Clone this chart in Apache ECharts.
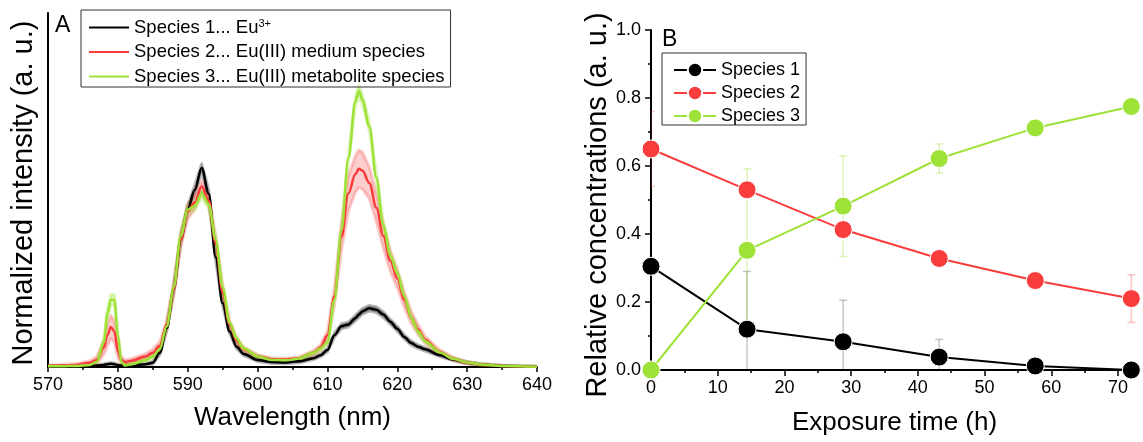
<!DOCTYPE html>
<html>
<head>
<meta charset="utf-8">
<script src="https://cdn.jsdelivr.net/npm/echarts@6/dist/echarts.min.js"></script>
<style>
  html, body { margin: 0; padding: 0; background: #fff; }
  #chart { width: 1143px; height: 442px; }
</style>
</head>
<body>
<div id="chart"></div>
<script>
// ---- Panel A: emission spectra of the three Eu species ----
const wavelength = [
  570, 572, 574, 576, 577, 578, 578.5, 579, 579.5, 580,
  580.5, 581, 582, 584, 585, 586, 587, 588, 589, 590,
  591, 592, 593, 594, 595, 596, 597, 598, 600, 602,
  604, 606, 608, 609, 610, 611, 612, 613, 614, 614.5,
  615, 616, 617, 618, 619, 620, 621, 622, 623, 624,
  626, 628, 630, 632, 635, 640
];
const spectrum1 = [
  0.002, 0.002, 0.002, 0.003, 0.004, 0.006, 0.008, 0.009, 0.008, 0.005,
  0.004, 0.004, 0.005, 0.008, 0.012, 0.04, 0.11, 0.22, 0.36, 0.445,
  0.5, 0.562, 0.49, 0.31, 0.18, 0.1, 0.057, 0.037, 0.02, 0.014,
  0.013, 0.016, 0.025, 0.033, 0.048, 0.09, 0.115, 0.12, 0.138, 0.148,
  0.157, 0.166, 0.162, 0.148, 0.128, 0.108, 0.085, 0.068, 0.057, 0.05,
  0.034, 0.021, 0.012, 0.007, 0.003, 0.001
];
const spectrum1Sd = [
  0.002, 0.002, 0.002, 0.002, 0.002, 0.003, 0.003, 0.003, 0.003, 0.003,
  0.003, 0.003, 0.003, 0.003, 0.004, 0.006, 0.008, 0.01, 0.012, 0.012,
  0.012, 0.012, 0.012, 0.01, 0.008, 0.006, 0.005, 0.004, 0.004, 0.004,
  0.004, 0.004, 0.004, 0.004, 0.005, 0.006, 0.007, 0.007, 0.008, 0.008,
  0.008, 0.008, 0.008, 0.008, 0.007, 0.007, 0.006, 0.006, 0.005, 0.005,
  0.004, 0.003, 0.003, 0.002, 0.002, 0.001
];
const spectrum2 = [
  0.003, 0.004, 0.006, 0.012, 0.02, 0.055, 0.09, 0.113, 0.1, 0.045,
  0.02, 0.014, 0.018, 0.03, 0.04, 0.06, 0.12, 0.22, 0.36, 0.44,
  0.465, 0.51, 0.47, 0.35, 0.21, 0.12, 0.075, 0.05, 0.03, 0.022,
  0.021, 0.025, 0.04, 0.055, 0.09, 0.2, 0.368, 0.49, 0.545, 0.56,
  0.555, 0.52, 0.45, 0.37, 0.3, 0.25, 0.19, 0.14, 0.105, 0.077,
  0.043, 0.023, 0.012, 0.007, 0.003, 0.001
];
const spectrum2Sd = [
  0.003, 0.003, 0.004, 0.006, 0.01, 0.02, 0.03, 0.033, 0.03, 0.02,
  0.01, 0.006, 0.006, 0.008, 0.01, 0.012, 0.015, 0.02, 0.022, 0.022,
  0.02, 0.015, 0.015, 0.02, 0.018, 0.012, 0.008, 0.006, 0.005, 0.004,
  0.004, 0.004, 0.006, 0.008, 0.012, 0.025, 0.04, 0.05, 0.052, 0.053,
  0.052, 0.045, 0.04, 0.035, 0.03, 0.026, 0.022, 0.018, 0.014, 0.01,
  0.007, 0.005, 0.003, 0.002, 0.001, 0.001
];
const spectrum3 = [
  0.002, 0.002, 0.003, 0.006, 0.015, 0.07, 0.15, 0.19, 0.19, 0.09,
  0.015, 0.004, 0.008, 0.02, 0.03, 0.05, 0.115, 0.225, 0.37, 0.445,
  0.455, 0.49, 0.46, 0.36, 0.225, 0.125, 0.08, 0.052, 0.03, 0.02,
  0.019, 0.024, 0.04, 0.052, 0.07, 0.19, 0.386, 0.59, 0.75, 0.78,
  0.755, 0.68, 0.535, 0.4, 0.315, 0.265, 0.2, 0.14, 0.1, 0.073,
  0.042, 0.023, 0.013, 0.007, 0.003, 0.001
];
const spectrum3Sd = [
  0.002, 0.002, 0.002, 0.003, 0.005, 0.012, 0.015, 0.015, 0.015, 0.012,
  0.006, 0.003, 0.003, 0.004, 0.005, 0.006, 0.008, 0.01, 0.012, 0.012,
  0.012, 0.012, 0.012, 0.012, 0.01, 0.007, 0.005, 0.004, 0.004, 0.003,
  0.003, 0.003, 0.004, 0.005, 0.006, 0.01, 0.012, 0.014, 0.015, 0.016,
  0.015, 0.014, 0.013, 0.012, 0.01, 0.01, 0.009, 0.008, 0.006, 0.005,
  0.004, 0.003, 0.002, 0.002, 0.001, 0.001
];
const spectrumNames = [
  'Species 1... Eu3+',
  'Species 2... Eu(III) medium species',
  'Species 3... Eu(III) metabolite species'
];

// ---- Panel B: relative concentrations over exposure time ----
const exposureTime = [0, 14.4, 28.8, 43.2, 57.6, 72];
const conc1 = [0.305, 0.12, 0.083, 0.038, 0.012, 0.0];
const conc1Err = [0, 0.17, 0.122, 0.052, 0.005, 0];
const conc2 = [0.65, 0.53, 0.413, 0.328, 0.263, 0.21];
const conc2Err = [0.11, 0.01, 0.01, 0.01, 0.01, 0.07];
const conc3 = [0, 0.352, 0.482, 0.622, 0.712, 0.775];
const conc3Err = [0, 0.24, 0.148, 0.043, 0.01, 0.01];
const concNames = ['Species 1', 'Species 2', 'Species 3'];
const timeTicks = [0, 10, 20, 30, 40, 50, 60, 70];
const timeMinorTicks = [5, 15, 25, 35, 45, 55, 65];

const BLACK = '#000000';
const RED = '#f93c3c';
const GREEN = '#9de236';
const FONT = 'Liberation Sans, Arial, sans-serif';

function pairs(xs, ys) {
  return xs.map(function (x, i) { return [x, ys[i]]; });
}

// Translucent spread band (mean ± sd) around one spectrum
function spreadBand(ys, sd, color) {
  return {
    type: 'custom',
    xAxisIndex: 0, yAxisIndex: 0,
    silent: true, clip: true, z: 1,
    data: [[wavelength[0], ys[0]]],
    renderItem: function (params, api) {
      const upper = wavelength.map(function (x, i) { return api.coord([x, ys[i] + sd[i]]); });
      const lower = wavelength.map(function (x, i) { return api.coord([x, Math.max(0, ys[i] - sd[i])]); }).reverse();
      return {
        type: 'polygon',
        shape: { points: upper.concat(lower) },
        style: { fill: color, stroke: color, lineWidth: 3, lineJoin: 'round' }
      };
    }
  };
}

function spectrumLine(name, ys, color) {
  return {
    name: name, type: 'line',
    xAxisIndex: 0, yAxisIndex: 0,
    data: pairs(wavelength, ys),
    symbol: 'none', smooth: 0.35, smoothMonotone: 'x',
    lineStyle: { color: color, width: 2.5 },
    itemStyle: { color: color },
    z: 3
  };
}

// Vertical error bars with caps for the concentration points
function errorBars(vals, errs, color) {
  return {
    type: 'custom',
    xAxisIndex: 1, yAxisIndex: 1,
    silent: true, clip: true, z: 2,
    data: exposureTime.map(function (t, i) { return [t, vals[i] - errs[i], vals[i] + errs[i]]; }),
    encode: { x: 0, y: [1, 2] },
    renderItem: function (params, api) {
      const lo = api.coord([api.value(0), api.value(1)]);
      const hi = api.coord([api.value(0), api.value(2)]);
      const w = 4;
      const st = { stroke: color, lineWidth: 1.5 };
      return {
        type: 'group',
        children: [
          { type: 'line', shape: { x1: hi[0], y1: hi[1], x2: lo[0], y2: lo[1] }, style: st },
          { type: 'line', shape: { x1: hi[0] - w, y1: hi[1], x2: hi[0] + w, y2: hi[1] }, style: st },
          { type: 'line', shape: { x1: lo[0] - w, y1: lo[1], x2: lo[0] + w, y2: lo[1] }, style: st }
        ]
      };
    }
  };
}

function concLine(name, ys, color) {
  return {
    name: name, type: 'line',
    xAxisIndex: 1, yAxisIndex: 1,
    data: pairs(exposureTime, ys),
    symbol: 'circle', symbolSize: 18, clip: false,
    lineStyle: { color: color, width: 2 },
    itemStyle: { color: color, borderColor: '#ffffff', borderWidth: 1 },
    z: 3
  };
}

const axisLineStyle = { color: '#000', width: 2 };
const tickStyle = { color: '#000', width: 1.5 };
const labelStyle = { color: '#000', fontSize: 18, fontFamily: FONT };
const nameStyle = { color: '#000', fontSize: 26, fontFamily: FONT };

const chart = echarts.init(document.getElementById('chart'), null, { renderer: 'canvas' });

chart.setOption({
  animation: false,
  backgroundColor: '#ffffff',
  textStyle: { fontFamily: FONT },
  title: [
    { text: 'A', left: 55, top: 14, padding: 0, textStyle: { fontSize: 23, fontWeight: 'normal', color: '#000', fontFamily: FONT } },
    { text: 'B', left: 662, top: 28, padding: 0, textStyle: { fontSize: 23, fontWeight: 'normal', color: '#000', fontFamily: FONT } }
  ],
  grid: [
    { left: 48, top: 13, width: 489, height: 354 },
    { left: 651, top: 30, width: 487, height: 340 }
  ],
  legend: [
    {
      data: spectrumNames,
      orient: 'vertical', left: 81, top: 10,
      itemWidth: 40, itemHeight: 14, itemGap: 5.5,
      padding: [8, 6, 1, 7],
      borderColor: '#333', borderWidth: 1,
      itemStyle: { opacity: 0 },
      textStyle: {
        fontSize: 18.5, fontFamily: FONT, color: '#000',
        rich: {
          t: { fontSize: 18.5, fontFamily: FONT, color: '#000', lineHeight: 18 },
          sup: { fontSize: 11, fontFamily: FONT, color: '#000', verticalAlign: 'top', lineHeight: 12 }
        }
      },
      formatter: function (name) {
        if (name.slice(-4) === 'Eu3+') {
          return '{t|' + name.slice(0, -2) + '}{sup|3+}';
        }
        return '{t|' + name + '}';
      }
    },
    {
      data: concNames,
      orient: 'vertical', left: 662, top: 53,
      itemWidth: 42, itemHeight: 18, itemGap: 5,
      padding: [8, 6, 0, 11],
      borderColor: '#333', borderWidth: 1,
      textStyle: { fontSize: 18, fontFamily: FONT, color: '#000' }
    }
  ],
  xAxis: [
    {
      type: 'value', gridIndex: 0, min: 570, max: 640, interval: 10,
      name: 'Wavelength (nm)', nameLocation: 'middle', nameGap: 38, nameTextStyle: nameStyle,
      axisLine: { show: true, onZero: false, lineStyle: axisLineStyle },
      axisTick: { show: true, length: 5, lineStyle: tickStyle },
      minorTick: { show: true, splitNumber: 2, length: 3, lineStyle: tickStyle },
      axisLabel: Object.assign({ margin: 9 }, labelStyle),
      splitLine: { show: false }
    },
    {
      type: 'value', gridIndex: 1, min: 0, max: 73, position: 'bottom',
      name: 'Exposure time (h)', nameLocation: 'middle', nameGap: 40, nameTextStyle: nameStyle,
      axisLine: { show: true, onZero: false, lineStyle: axisLineStyle },
      axisTick: { show: true, length: 6, lineStyle: tickStyle, customValues: timeTicks },
      axisLabel: Object.assign({ margin: 9, customValues: timeTicks }, labelStyle),
      splitLine: { show: false }
    },
    {
      type: 'value', gridIndex: 1, min: 0, max: 73, position: 'bottom',
      axisLine: { show: false, onZero: false },
      axisTick: { show: true, length: 3, lineStyle: tickStyle, customValues: timeMinorTicks },
      axisLabel: { show: false },
      splitLine: { show: false }
    }
  ],
  yAxis: [
    {
      type: 'value', gridIndex: 0, min: 0, max: 1,
      name: 'Normalized intensity (a. u.)', nameLocation: 'middle', nameGap: 10,
      nameTextStyle: Object.assign({}, nameStyle, { fontSize: 29, padding: [0, 6, 0, 0] }),
      axisLine: { show: true, lineStyle: axisLineStyle },
      axisTick: { show: false },
      axisLabel: { show: false },
      splitLine: { show: false }
    },
    {
      type: 'value', gridIndex: 1, min: 0, max: 1, interval: 0.2,
      name: 'Relative concentrations (a. u.)', nameLocation: 'middle', nameGap: 37,
      nameTextStyle: Object.assign({}, nameStyle, { fontSize: 29, padding: [0, 10, 0, 0] }),
      axisLine: { show: true, lineStyle: axisLineStyle },
      axisTick: { show: true, length: 6, lineStyle: tickStyle },
      minorTick: { show: true, splitNumber: 2, length: 3, lineStyle: tickStyle },
      axisLabel: Object.assign({ margin: 10, formatter: function (v) { return v.toFixed(1); } }, labelStyle),
      splitLine: { show: false }
    }
  ],
  series: [
    spreadBand(spectrum1, spectrum1Sd, 'rgba(0,0,0,0.28)'),
    spreadBand(spectrum2, spectrum2Sd, 'rgba(249,60,60,0.25)'),
    spreadBand(spectrum3, spectrum3Sd, 'rgba(157,226,54,0.3)'),
    spectrumLine(spectrumNames[0], spectrum1, BLACK),
    spectrumLine(spectrumNames[1], spectrum2, RED),
    spectrumLine(spectrumNames[2], spectrum3, GREEN),

    errorBars(conc1, conc1Err, 'rgba(0,0,0,0.22)'),
    errorBars(conc2, conc2Err, 'rgba(249,60,60,0.3)'),
    errorBars(conc3, conc3Err, 'rgba(157,226,54,0.35)'),
    concLine(concNames[0], conc1, BLACK),
    concLine(concNames[1], conc2, RED),
    concLine(concNames[2], conc3, GREEN)
  ]
});
</script>
</body>
</html>
